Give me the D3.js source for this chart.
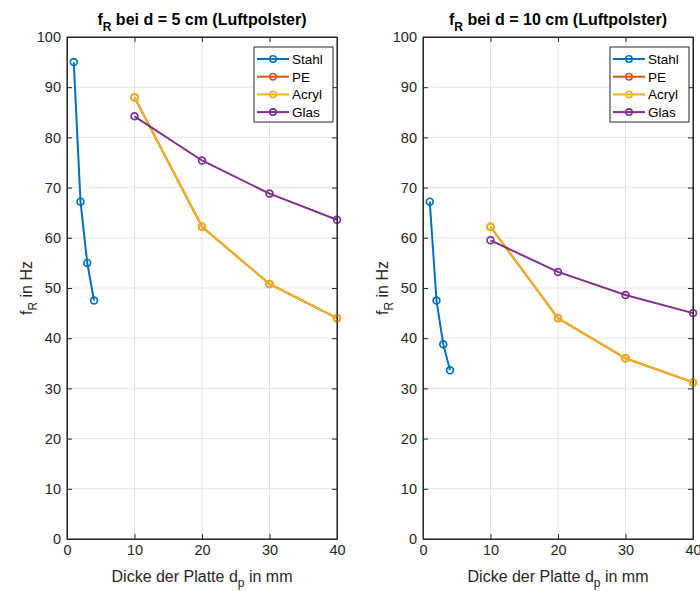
<!DOCTYPE html>
<meta charset="utf-8">
<script src="https://d3js.org/d3.v7.min.js"></script>
<style>
  body { margin: 0; background: #fff; }
  text { font-family: "Liberation Sans", Arial, sans-serif; }
</style>
<div id="chart"></div>
<script>
// plate thickness in mm
var xStahl = [1, 2, 3, 4];
var xOther = [10, 20, 30, 40];

// resonance frequency, d = 5 cm
var stahl5 = [95, 67.2, 55, 47.5];
var pe5    = [88, 62.2, 50.8, 44];
var acryl5 = [88, 62.2, 50.8, 44];
var glas5  = [84.2, 75.4, 68.8, 63.6];

// resonance frequency, d = 10 cm
var stahl10 = [67.2, 47.5, 38.8, 33.6];
var pe10    = [62.2, 44, 36, 31.2];
var acryl10 = [62.2, 44, 36, 31.2];
var glas10  = [59.5, 53.2, 48.6, 45];

var xTicks = [0, 10, 20, 30, 40];
var yTicks = [0, 10, 20, 30, 40, 50, 60, 70, 80, 90, 100];
var names = ["Stahl", "PE", "Acryl", "Glas"];
var colors = ["#0072BD", "#D95319", "#EDB120", "#7E2F8E"];

var svg = d3.select("#chart").append("svg")
  .attr("width", 700).attr("height", 591);

function panel(left, right, titleMain, series) {
  var top = 37, bottom = 539;
  var x = d3.scaleLinear().domain([0, 40]).range([left, right]);
  var y = d3.scaleLinear().domain([0, 100]).range([bottom, top]);
  var g = svg.append("g");

  // grid
  g.selectAll(".gx").data(xTicks).enter().append("line")
    .attr("x1", d => x(d)).attr("x2", d => x(d))
    .attr("y1", top).attr("y2", bottom)
    .attr("stroke", "#e3e3e3").attr("stroke-width", 1);
  g.selectAll(".gy").data(yTicks).enter().append("line")
    .attr("y1", d => y(d)).attr("y2", d => y(d))
    .attr("x1", left).attr("x2", right)
    .attr("stroke", "#e3e3e3").attr("stroke-width", 1);

  // axes with inward ticks
  var ax = g.append("g").attr("transform", "translate(0," + bottom + ")")
    .call(d3.axisBottom(x).tickValues(xTicks).tickSizeInner(-5).tickSizeOuter(0).tickPadding(6));
  var ax2 = g.append("g").attr("transform", "translate(0," + top + ")")
    .call(d3.axisTop(x).tickValues(xTicks).tickSizeInner(-5).tickSizeOuter(0).tickFormat(""));
  var ay = g.append("g").attr("transform", "translate(" + left + ",0)")
    .call(d3.axisLeft(y).tickValues(yTicks).tickSizeInner(-5).tickSizeOuter(0).tickPadding(6));
  var ay2 = g.append("g").attr("transform", "translate(" + right + ",0)")
    .call(d3.axisRight(y).tickValues(yTicks).tickSizeInner(-5).tickSizeOuter(0).tickFormat(""));
  [ax, ax2, ay, ay2].forEach(function (a) {
    a.selectAll("path, line").attr("stroke", "#262626");
    a.selectAll("text").attr("fill", "#262626").style("font-size", "14.5px")
      .style("font-family", "'Liberation Sans', Arial, sans-serif");
  });

  // series
  series.forEach(function (s, i) {
    var pts = s.xs.map((d, j) => [d, s.ys[j]]);
    g.append("path").datum(pts)
      .attr("fill", "none").attr("stroke", colors[i]).attr("stroke-width", 2)
      .attr("d", d3.line().x(d => x(d[0])).y(d => y(d[1])));
    g.selectAll(".m" + i).data(pts).enter().append("circle")
      .attr("cx", d => x(d[0])).attr("cy", d => y(d[1])).attr("r", 3.4)
      .attr("fill", "none").attr("stroke", colors[i]).attr("stroke-width", 1.7);
  });

  // title
  var t = g.append("text").attr("x", (left + right) / 2).attr("y", 25)
    .attr("text-anchor", "middle").style("font-size", "16px").style("font-weight", "bold")
    .attr("fill", "#000");
  t.append("tspan").text("f");
  t.append("tspan").text("R").attr("dy", 6).style("font-size", "12px");
  t.append("tspan").text(" bei d = " + titleMain + " cm (Luftpolster)").attr("dy", -6);

  // axis labels
  var xl = g.append("text").attr("x", (left + right) / 2).attr("y", 582)
    .attr("text-anchor", "middle").style("font-size", "16px").attr("fill", "#262626");
  xl.append("tspan").text("Dicke der Platte d");
  xl.append("tspan").text("p").attr("dy", 5).style("font-size", "12px");
  xl.append("tspan").text(" in mm").attr("dy", -5);

  var yl = g.append("text")
    .attr("transform", "translate(" + (left - 35) + "," + ((top + bottom) / 2) + ") rotate(-90)")
    .attr("text-anchor", "middle").style("font-size", "16px").attr("fill", "#262626");
  yl.append("tspan").text("f");
  yl.append("tspan").text("R").attr("dy", 5).style("font-size", "12px");
  yl.append("tspan").text(" in Hz").attr("dy", -5);

  // legend
  var lx = right - 83, ly = 47, lw = 79, lh = 75;
  var lg = g.append("g");
  lg.append("rect").attr("x", lx).attr("y", ly).attr("width", lw).attr("height", lh)
    .attr("fill", "#fff").attr("stroke", "#262626").attr("stroke-width", 1);
  names.forEach(function (n, i) {
    var yy = ly + 12 + i * 17.7;
    lg.append("line").attr("x1", lx + 3).attr("x2", lx + 35).attr("y1", yy).attr("y2", yy)
      .attr("stroke", colors[i]).attr("stroke-width", 2);
    lg.append("circle").attr("cx", lx + 19).attr("cy", yy).attr("r", 3.2)
      .attr("fill", "none").attr("stroke", colors[i]).attr("stroke-width", 1.6);
    lg.append("text").attr("x", lx + 38).attr("y", yy + 5).text(n)
      .style("font-size", "13.5px").attr("fill", "#000");
  });

  // frame on top
  g.append("rect").attr("x", left).attr("y", top).attr("width", right - left).attr("height", bottom - top)
    .attr("fill", "none").attr("stroke", "#262626").attr("stroke-width", 1);
}

panel(67, 337, "5", [
  {xs: xStahl, ys: stahl5}, {xs: xOther, ys: pe5}, {xs: xOther, ys: acryl5}, {xs: xOther, ys: glas5}
]);
panel(423, 693, "10", [
  {xs: xStahl, ys: stahl10}, {xs: xOther, ys: pe10}, {xs: xOther, ys: acryl10}, {xs: xOther, ys: glas10}
]);
</script>
